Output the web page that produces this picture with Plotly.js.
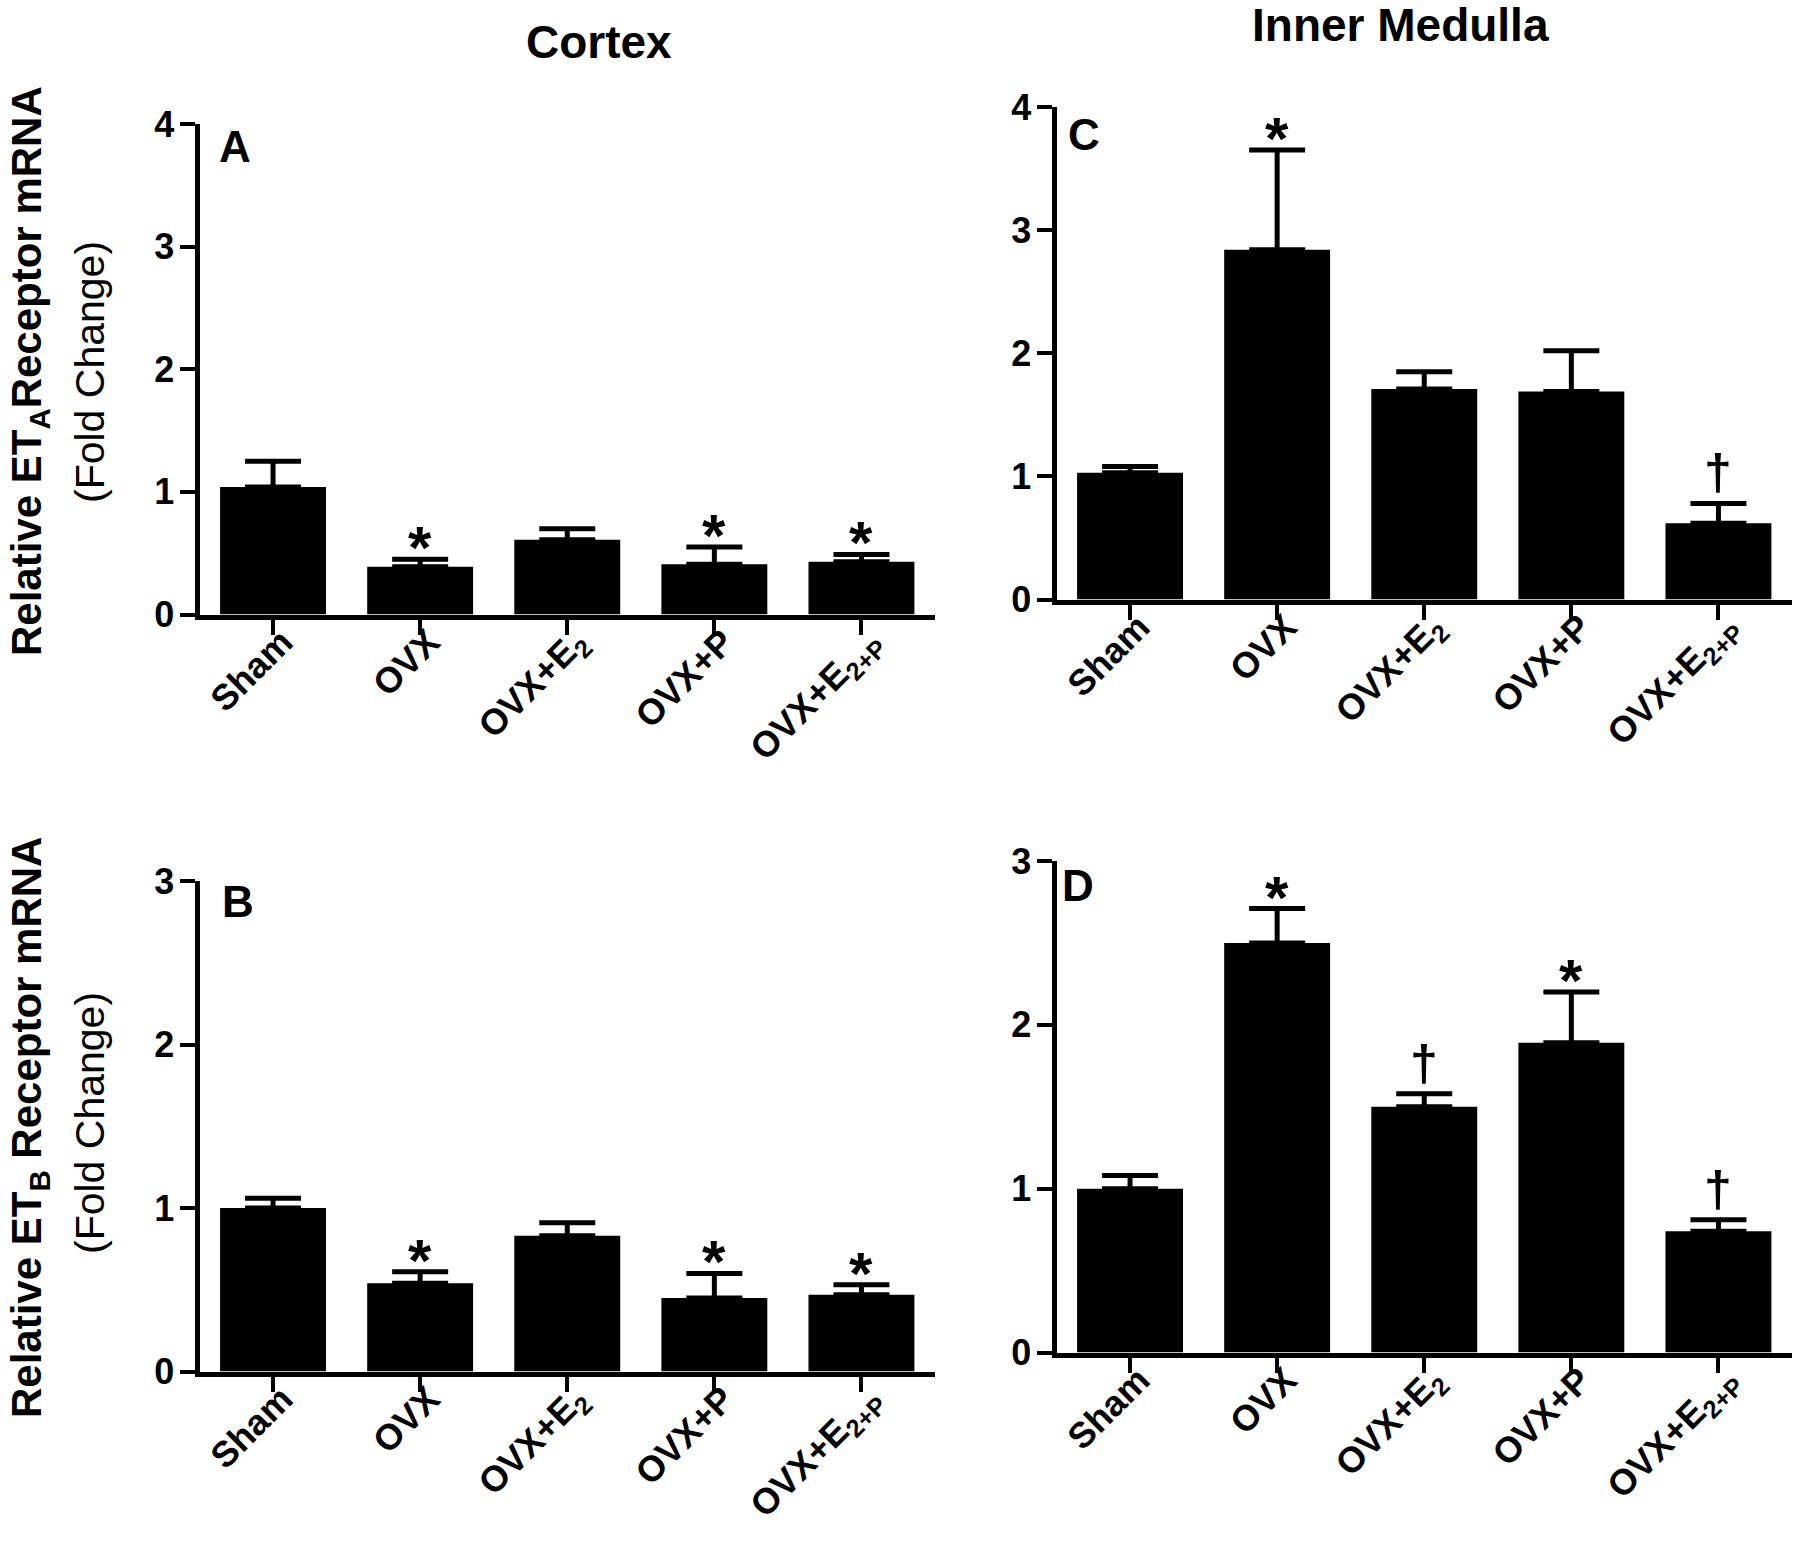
<!DOCTYPE html>
<html>
<head>
<meta charset="utf-8">
<script src="https://cdn.plot.ly/plotly-3.0.1.min.js"></script>
<style>
  body { margin: 0; background: #fff; }
  #grafik { width: 1800px; height: 1542px; }
</style>
</head>
<body>
<div id="grafik"></div>
<script>
/* ==========================================================
   DATA
========================================================== */
const groups = ["Sham", "OVX", "OVX+E<sub>2</sub>", "OVX+P", "OVX+E<sub>2+P</sub>"];

// A: cortex ETA
const cortexEtaMean = [1.04, 0.39, 0.61, 0.41, 0.43];
const cortexEtaSem  = [0.21, 0.06, 0.09, 0.14, 0.06];
const cortexEtaSig  = ["", "*", "", "*", "*"];

// B: cortex ETB
const cortexEtbMean = [1.00, 0.54, 0.83, 0.45, 0.47];
const cortexEtbSem  = [0.06, 0.07, 0.08, 0.15, 0.06];
const cortexEtbSig  = ["", "*", "", "*", "*"];

// C: inner medulla ETA
const medullaEtaMean = [1.03, 2.84, 1.71, 1.69, 0.62];
const medullaEtaSem  = [0.05, 0.81, 0.14, 0.33, 0.16];
const medullaEtaSig  = ["", "*", "", "", "†"];

// D: inner medulla ETB
const medullaEtbMean = [1.00, 2.50, 1.50, 1.89, 0.74];
const medullaEtbSem  = [0.08, 0.21, 0.08, 0.31, 0.07];
const medullaEtbSig  = ["", "*", "†", "*", "†"];

const yTicksA = [0, 1, 2, 3, 4];
const yTicksB = [0, 1, 2, 3];

/* ==========================================================
   HELPERS
========================================================== */
const FONT = "Liberation Sans, Arial, sans-serif";
const W = 1800, H = 1542;

function px2x(p) { return p / W; }
function px2y(p) { return 1 - p / H; }

function barTrace(mean, sem, xa, ya) {
  return {
    type: "bar",
    x: groups,
    y: mean,
    xaxis: xa,
    yaxis: ya,
    marker: { color: "#000", line: { width: 0 } },
    error_y: {
      type: "data",
      symmetric: false,
      array: sem,
      arrayminus: sem.map(() => 0),
      color: "#000",
      thickness: 5,
      width: 28
    },
    hoverinfo: "x+y",
    showlegend: false
  };
}

// stars and daggers sit just above the error bar cap
function sigNotes(mean, sem, sig, xa, ya) {
  let notes = [];
  sig.forEach((s, i) => {
    if (!s) return;
    const star = s === "*";
    notes.push({
      xref: xa, yref: ya,
      x: groups[i],
      y: mean[i] + sem[i],
      text: s,
      showarrow: false,
      yanchor: "bottom",
      yshift: star ? -24 : 1,
      font: { family: FONT, size: star ? 60 : 50, color: "#000", weight: "bold" }
    });
  });
  return notes;
}

function xAxis(domain, anchor) {
  return {
    domain: domain,
    anchor: anchor,
    type: "category",
    range: [-0.5, 4.5],
    showline: true, linecolor: "#000", linewidth: 5,
    ticks: "outside", ticklen: 15, tickwidth: 4, tickcolor: "#000",
    tickangle: -45,
    ticklabelstandoff: -28,
    ticklabelshift: 9,
    tickfont: { family: FONT, size: 36, color: "#000", weight: "bold" },
    showgrid: false, zeroline: false,
    fixedrange: true
  };
}

function yAxis(domain, anchor, ticks) {
  return {
    domain: domain,
    anchor: anchor,
    range: [0, ticks[ticks.length - 1]],
    tickvals: ticks,
    showline: true, linecolor: "#000", linewidth: 5,
    ticks: "outside", ticklen: 15, tickwidth: 4, tickcolor: "#000",
    ticklabelstandoff: -2,
    tickfont: { family: FONT, size: 36, color: "#000", weight: "bold" },
    showgrid: false, zeroline: false,
    fixedrange: true
  };
}

function textNote(text, x, y, size, weight, angle) {
  return {
    xref: "paper", yref: "paper",
    x: x, y: y,
    xanchor: "center", yanchor: "middle",
    text: text,
    showarrow: false,
    textangle: angle || 0,
    font: { family: FONT, size: size, color: "#000", weight: weight }
  };
}

/* ==========================================================
   LAYOUT
========================================================== */
const leftX  = [px2x(199.5), px2x(935)];
const rightX = [px2x(1056.5), px2x(1792)];

const layout = {
  width: W, height: H,
  margin: { l: 0, r: 0, t: 0, b: 0 },
  paper_bgcolor: "#fff",
  plot_bgcolor: "#fff",
  bargap: 0.28,
  showlegend: false,

  xaxis:  xAxis(leftX, "y"),
  yaxis:  yAxis([px2y(614.5), px2y(124)], "x", yTicksA),
  xaxis2: xAxis(rightX, "y2"),
  yaxis2: yAxis([px2y(599.5), px2y(107)], "x2", yTicksA),
  xaxis3: xAxis(leftX, "y3"),
  yaxis3: yAxis([px2y(1371.5), px2y(881)], "x3", yTicksB),
  xaxis4: xAxis(rightX, "y4"),
  yaxis4: yAxis([px2y(1352.5), px2y(861)], "x4", yTicksB),

  annotations: [
    textNote("Cortex", px2x(599), px2y(42), 46, "bold"),
    textNote("Inner Medulla", px2x(1400), px2y(25), 46, "bold"),

    textNote("Relative ET<sub>A</sub>Receptor mRNA", px2x(29), px2y(371), 42, "bold", -90),
    textNote("(Fold Change)", px2x(90), px2y(372), 41, "normal", -90),
    textNote("Relative ET<sub>B</sub> Receptor mRNA", px2x(29), px2y(1128), 42, "bold", -90),
    textNote("(Fold Change)", px2x(90), px2y(1123), 41, "normal", -90),

    textNote("A", px2x(235), px2y(146), 44, "bold"),
    textNote("C", px2x(1084), px2y(134), 44, "bold"),
    textNote("B", px2x(238), px2y(901), 44, "bold"),
    textNote("D", px2x(1078), px2y(886), 44, "bold")
  ]
    .concat(sigNotes(cortexEtaMean, cortexEtaSem, cortexEtaSig, "x", "y"))
    .concat(sigNotes(medullaEtaMean, medullaEtaSem, medullaEtaSig, "x2", "y2"))
    .concat(sigNotes(cortexEtbMean, cortexEtbSem, cortexEtbSig, "x3", "y3"))
    .concat(sigNotes(medullaEtbMean, medullaEtbSem, medullaEtbSig, "x4", "y4"))
};

/* ==========================================================
   DRAW
========================================================== */
Plotly.newPlot("grafik", [
  barTrace(cortexEtaMean, cortexEtaSem, "x", "y"),
  barTrace(medullaEtaMean, medullaEtaSem, "x2", "y2"),
  barTrace(cortexEtbMean, cortexEtbSem, "x3", "y3"),
  barTrace(medullaEtbMean, medullaEtbSem, "x4", "y4")
], layout, { displayModeBar: false, staticPlot: true });
</script>
</body>
</html>
